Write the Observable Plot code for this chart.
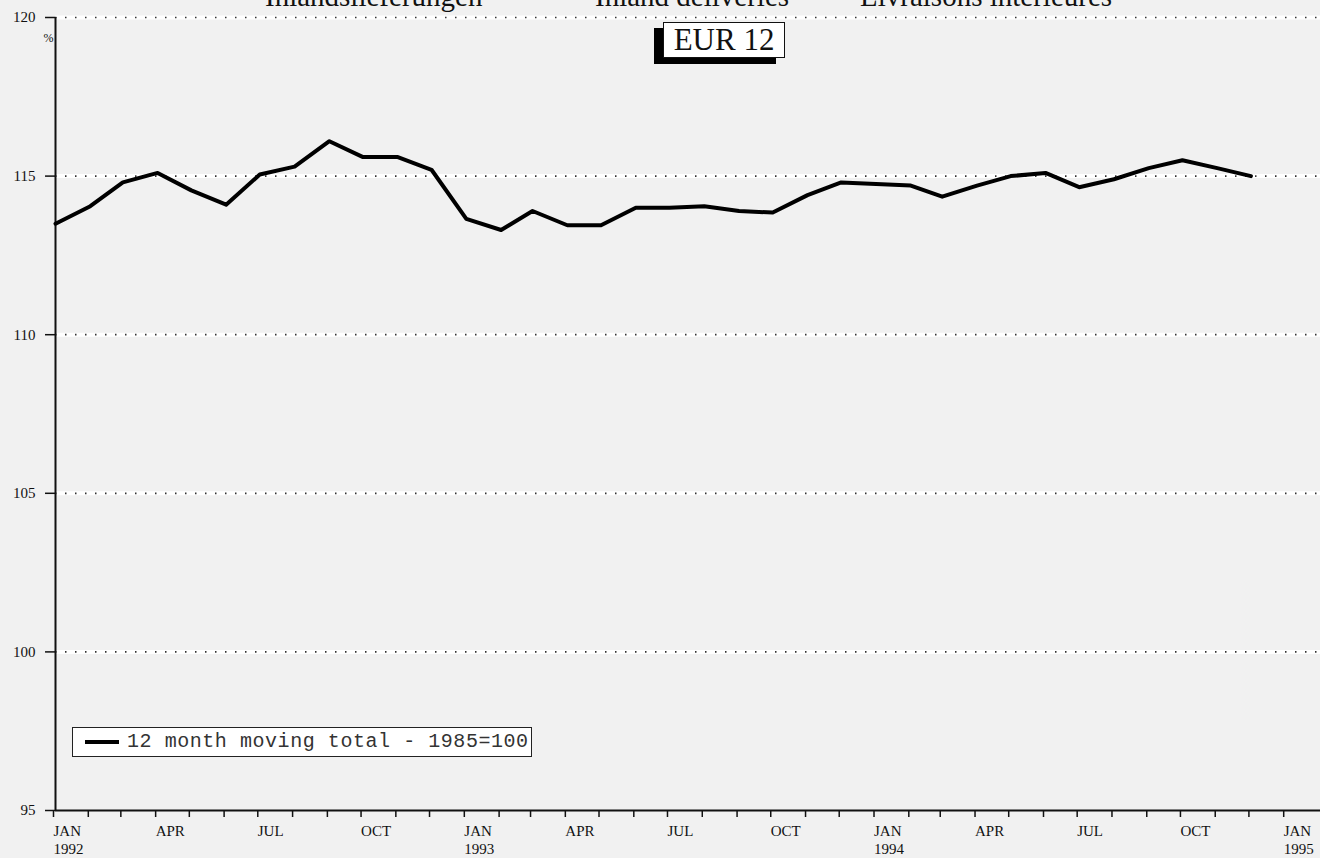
<!DOCTYPE html>
<html><head><meta charset="utf-8">
<script src="https://cdn.jsdelivr.net/npm/d3@7"></script>
<script src="https://cdn.jsdelivr.net/npm/@observablehq/plot@0.6"></script>
<style>
html,body{margin:0;padding:0;background:#f1f1f1;overflow:hidden;}
#wrap{position:relative;width:1320px;height:858px;overflow:hidden;}
#chart{position:absolute;left:0;top:0;}
.title{position:absolute;top:-18px;font-family:"Liberation Serif",serif;font-size:29px;line-height:1;white-space:nowrap;color:#111;}
#eur{position:absolute;left:663px;top:22px;width:120px;height:34px;background:#fff;border:1.5px solid #111;box-shadow:-9px 6px 0 #000;
 font-family:"Liberation Serif",serif;font-size:31px;line-height:34px;text-align:center;color:#111;}
#legend{position:absolute;left:72px;top:727px;width:458px;height:28px;background:#fff;border:1.5px solid #222;}
#legend .swatch{position:absolute;left:12px;top:12px;width:34px;height:4px;background:#000;}
#legend .lab{position:absolute;left:54px;top:0;line-height:28px;font-family:"Liberation Mono",monospace;font-size:20px;letter-spacing:0.55px;color:#333;white-space:nowrap;}
</style></head>
<body>
<div id="wrap">
 <div id="chart"></div>
 <div class="title" id="t0"></div>
 <div class="title" id="t1"></div>
 <div class="title" id="t2"></div>
 <div id="eur"></div>
 <div id="legend"><div class="swatch"></div><div class="lab"></div></div>
</div>
<script>
const titles = ["Inlandslieferungen", "Inland deliveries", "Livraisons intérieures"];
const titleLeft = [265, 595, 860];
const region = "EUR 12";
const seriesName = "12 month moving total - 1985=100";
const unit = "%";

const months = [
 "1992-01","1992-02","1992-03","1992-04","1992-05","1992-06","1992-07","1992-08","1992-09","1992-10","1992-11","1992-12",
 "1993-01","1993-02","1993-03","1993-04","1993-05","1993-06","1993-07","1993-08","1993-09","1993-10","1993-11","1993-12",
 "1994-01","1994-02","1994-03","1994-04","1994-05","1994-06","1994-07","1994-08","1994-09","1994-10","1994-11","1994-12"
];
const values = [
 113.5, 114.05, 114.8, 115.1, 114.55, 114.1, 115.05, 115.3, 116.1, 115.6, 115.6, 115.2,
 113.65, 113.3, 113.9, 113.45, 113.45, 114.0, 114.0, 114.05, 113.9, 113.85, 114.4, 114.8,
 114.75, 114.7, 114.35, 114.7, 115.0, 115.1, 114.65, 114.9, 115.25, 115.5, 115.25, 115.0
];
const yTicks = [95, 100, 105, 110, 115, 120];
const gridValues = [100, 105, 110, 115, 120];
const monthNames = ["JAN","FEB","MAR","APR","MAY","JUN","JUL","AUG","SEP","OCT","NOV","DEC"];
const labelledMonths = ["JAN","APR","JUL","OCT"];

titles.forEach((t, i) => {
  const el = document.getElementById("t" + i);
  el.textContent = t;
  el.style.left = titleLeft[i] + "px";
});
document.getElementById("eur").textContent = region;
document.querySelector("#legend .lab").textContent = seriesName;

const parse = d3.utcParse("%Y-%m");
const data = months.map((m, i) => ({date: parse(m), value: values[i]}));
const xStart = parse("1992-01");
const xEnd = parse("1995-02");
const xTicks = d3.utcMonth.range(xStart, xEnd);
const fmt = d => {
  const name = monthNames[d.getUTCMonth()];
  if (!labelledMonths.includes(name)) return null;
  return name === "JAN" ? name + "\n" + d.getUTCFullYear() : name;
};

const chart = Plot.plot({
  width: 1320, height: 858,
  marginLeft: 55, marginRight: 0, marginTop: 17, marginBottom: 48,
  x: {type: "utc", domain: [xStart, xEnd]},
  y: {domain: [95, 120]},
  style: {background: "transparent", fontFamily: "Liberation Serif, serif", fontSize: "15px", color: "#111"},
  marks: [
    Plot.ruleY(gridValues, {stroke: "#fff", strokeWidth: 4}),
    Plot.ruleY(gridValues, {stroke: "#333", strokeWidth: 1.7, strokeDasharray: "1.5,8.5"}),
    Plot.axisY({ticks: yTicks, tickSize: 10, tickPadding: 10, label: null, strokeWidth: 1.5}),
    Plot.axisX({ticks: xTicks, tickSize: 7, tickPadding: 5, tickFormat: fmt, textAnchor: "start", dx: -2,
                lineHeight: 1.22, label: null, strokeWidth: 1.5}),
    Plot.ruleX([xStart], {stroke: "#111", strokeWidth: 2}),
    Plot.ruleY([95], {stroke: "#111", strokeWidth: 2}),
    Plot.line(data, {x: "date", y: "value", stroke: "#000", strokeWidth: 4, strokeLinejoin: "round"}),
    Plot.text([unit], {frameAnchor: "top-left", dx: -12, dy: 16, fontSize: 12})
  ]
});
document.getElementById("chart").appendChild(chart);
</script>
</body></html>
